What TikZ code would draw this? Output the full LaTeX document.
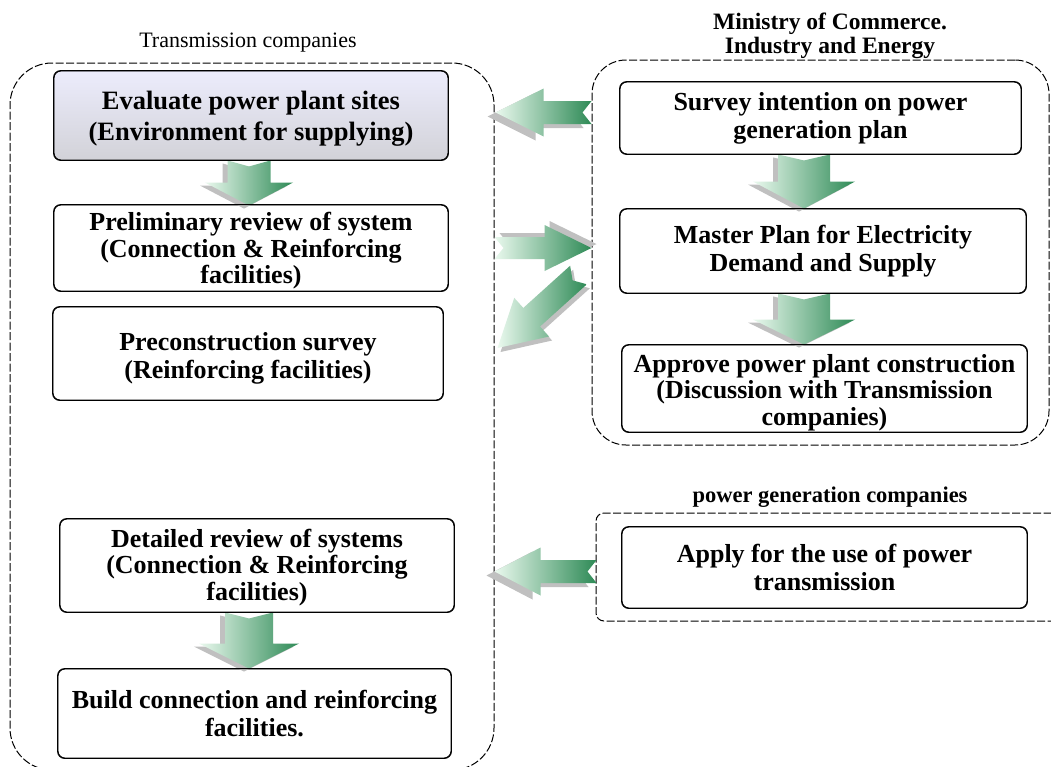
\documentclass[tikz,border=0pt]{standalone}
\usepackage{fontspec}
\setmainfont{Liberation Serif}
\usetikzlibrary{calc}

\definecolor{arrowlight}{RGB}{234,249,238}
\definecolor{arrowdark}{RGB}{46,138,86}
\definecolor{arrowshade}{RGB}{192,192,192}
\definecolor{hilitetop}{RGB}{236,236,252}
\definecolor{hilitebottom}{RGB}{210,210,216}

% step text set a little lower than the box centre, box size unchanged
\newcommand\lowered[2]{%
  \raisebox{-#1pt}[\height][\depth]{\begin{tabular}{@{}c@{}}#2\end{tabular}}}

% Block arrow from #1 (tail) to #2 (tip):
% #3 shaft half-width, #4 head half-width, #5 head length, #6 tail notch,
% #7/#8 canvas shift of the grey side face
\newcommand\flowarrow[8]{%
  \coordinate (fa-t) at (#1);
  \coordinate (fa-p) at (#2);
  \coordinate (fa-b) at ($(fa-p)!#5!(fa-t)$);
  \coordinate (fa-n) at ($(fa-t)!#6!(fa-p)$);
  \fill[arrowshade, transform canvas={xshift=#7pt, yshift=#8pt}]
    ($(fa-t)!#3!90:(fa-p)$) -- ($(fa-b)!#3!90:(fa-p)$) -- ($(fa-b)!#4!90:(fa-p)$)
    -- (fa-p) -- ($(fa-b)!#4!-90:(fa-p)$) -- ($(fa-b)!#3!-90:(fa-p)$)
    -- ($(fa-t)!#3!-90:(fa-p)$) -- (fa-n) -- cycle;
  \shade[left color=arrowlight, right color=arrowdark]
    ($(fa-t)!#3!90:(fa-p)$) -- ($(fa-b)!#3!90:(fa-p)$) -- ($(fa-b)!#4!90:(fa-p)$)
    -- (fa-p) -- ($(fa-b)!#4!-90:(fa-p)$) -- ($(fa-b)!#3!-90:(fa-p)$)
    -- ($(fa-t)!#3!-90:(fa-p)$) -- (fa-n) -- cycle;
}

\tikzset{
  group/.style={draw=black, line width=1pt, dash pattern=on 8pt off 2.5pt,
    inner sep=0pt},
  box/.style={draw=black, line width=0.9pt, rounded corners=7pt, fill=white,
    align=center, inner sep=0pt,
    font=\bfseries\fontsize{26}{28}\selectfont},
  threeline/.style={font=\bfseries\fontsize{26}{26.5}\selectfont},
  grouptitle/.style={align=center, inner sep=0pt},
}

\begin{document}
\begin{tikzpicture}[x=1pt, y=-1pt]
  \path[use as bounding box, clip] (0,0) rectangle (1051,766);
  \fill[white] (0,0) rectangle (1051,766);

  % group frames
  \node[group, rounded corners=42pt, minimum width=484pt, minimum height=707pt]
    (tc) at (252,416.5) {};
  \node[group, rounded corners=34pt, minimum width=457pt, minimum height=385pt]
    (mc) at (820.5,252.5) {};
  \node[group, rounded corners=8pt, minimum width=474pt, minimum height=108pt]
    (gc) at (833,567) {};

  % group titles
  \node[grouptitle, font=\fontsize{22}{24}\selectfont] (tct) at (248,43)
    {Transmission companies};
  \node[grouptitle, font=\bfseries\fontsize{23.5}{23.5}\selectfont] (mct) at (830,36)
    {Ministry of Commerce.\\Industry and Energy};
  \node[grouptitle, font=\bfseries\fontsize{22.5}{24}\selectfont] (gct) at (830,497)
    {power generation companies};

  % step box centres
  \path
    (251,115.5) coordinate (ev-c)
    (251,248)   coordinate (pr-c)
    (248,353.5) coordinate (ps-c)
    (257,565.5) coordinate (dr-c)
    (254.5,713.5) coordinate (bd-c)
    (820.5,118) coordinate (sv-c)
    (823,251)   coordinate (mp-c)
    (824.5,388.5) coordinate (av-c)
    (824.5,567.5) coordinate (ap-c);

  \node[box, top color=hilitetop, bottom color=hilitebottom,
        minimum width=394pt, minimum height=89pt,
        font=\bfseries\fontsize{26.5}{31}\selectfont] (ev) at (ev-c)
    {\lowered{3}{Evaluate power plant sites\\(Environment for supplying)}};
  \node[box, threeline, minimum width=394pt, minimum height=86pt] (pr) at (pr-c)
    {\lowered{4}{Preliminary review of system\\(Connection \& Reinforcing\\facilities)}};
  \node[box, minimum width=390pt, minimum height=93pt] (ps) at (ps-c)
    {\lowered{5}{Preconstruction survey\\(Reinforcing facilities)}};
  \node[box, threeline, minimum width=394pt, minimum height=93pt] (dr) at (dr-c)
    {\lowered{3}{Detailed review of systems\\(Connection \& Reinforcing\\facilities)}};
  \node[box, minimum width=393pt, minimum height=89pt] (bd) at (bd-c)
    {Build connection and reinforcing\\facilities.};
  \node[box, minimum width=401pt, minimum height=72pt] (sv) at (sv-c)
    {Survey intention on power\\generation plan};
  \node[box, minimum width=406pt, minimum height=84pt] (mp) at (mp-c)
    {Master Plan for Electricity\\Demand and Supply};
  \node[box, threeline, minimum width=405pt, minimum height=87pt] (av) at (av-c)
    {\lowered{5}{Approve power plant construction\\(Discussion with Transmission\\companies)}};
  \node[box, minimum width=405pt, minimum height=81pt] (ap) at (ap-c)
    {Apply for the use of power\\transmission};

  % block arrows between groups
  \flowarrow{$(mc.west |- ev.center)+(0,-3)$}{$(tc.east |- ev.center)+(1,-3)$}
    {11.5pt}{24pt}{48pt}{9pt}{-8}{-4}
  \flowarrow{tc.east |- pr.center}{mc.west |- pr.center}
    {11pt}{23pt}{47pt}{9pt}{5}{4}
  \flowarrow{$(mc.west |- mp.center)+(-13,24)$}{$(tc.east |- ps.center)+(3,-5.5)$}
    {12.5pt}{26pt}{46pt}{8pt}{3}{-4}
  \flowarrow{$(gc.west |- ap.center)+(1,4)$}{$(tc.east |- ap.center)+(0,4)$}
    {11.5pt}{24pt}{46pt}{9pt}{-8}{-4}

  % block arrows between steps
  \flowarrow{$(ev.south)+(-2,0)$}{$(pr.north)+(-2,1)$}
    {21.5pt}{44pt}{23pt}{6pt}{-5}{-3}
  \flowarrow{$(dr.south)+(-8,0)$}{$(bd.north)+(-5.5,0)$}
    {24pt}{50pt}{25pt}{6pt}{-5}{-3}
  \flowarrow{$(sv.south)+(-16.5,0)$}{$(mp.north)+(-19,0)$}
    {26pt}{51pt}{27pt}{6pt}{-5}{-3}
  \flowarrow{$(mp.south)+(-19,0)$}{$(av.north)+(-20.5,0)$}
    {26pt}{51pt}{25pt}{6pt}{-5}{-3}

  % step frames drawn again above the arrow ends
  \foreach \b in {ev,pr,ps,dr,bd,sv,mp,av,ap}
    \draw[line width=0.9pt, rounded corners=7pt]
      (\b.north west) rectangle (\b.south east);
\end{tikzpicture}
\end{document}
